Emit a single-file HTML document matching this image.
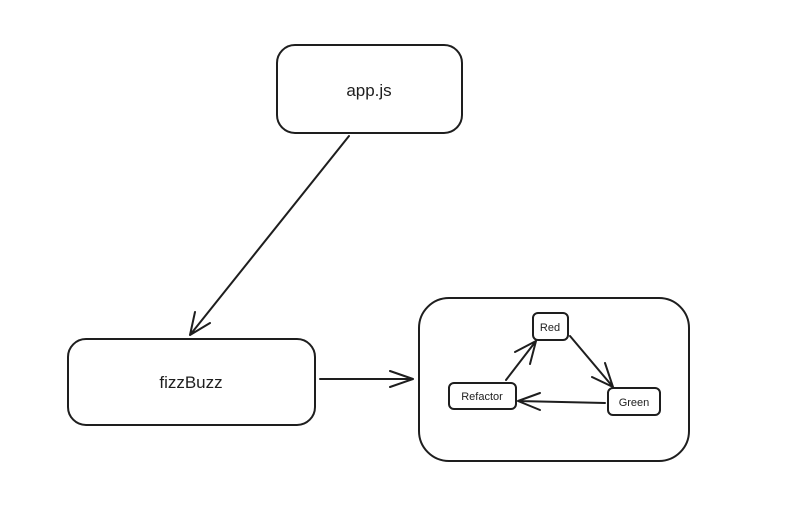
<!DOCTYPE html>
<html><head><style>
html,body{margin:0;padding:0;background:#fff;}
text{font-family:"Liberation Sans",sans-serif;fill:#1e1e1e;}
</style></head><body>
<svg width="785" height="526" viewBox="0 0 785 526" xmlns="http://www.w3.org/2000/svg">
<g fill="none" stroke="#1e1e1e" stroke-width="2" stroke-linecap="round" stroke-linejoin="round">
<rect x="277" y="45" width="185" height="88" rx="18"/>
<rect x="68" y="339" width="247" height="86" rx="18"/>
<rect x="419" y="298" width="270" height="163" rx="30"/>
<rect x="533" y="313" width="35" height="27" rx="5"/>
<rect x="449" y="383" width="67" height="26" rx="5"/>
<rect x="608" y="388" width="52" height="27" rx="5"/>
<path d="M349 136 L190 335 M190 335 L195 312 M190 335 L210 323"/>
<path d="M320 379 L413 379 M413 379 L390 371 M413 379 L390 387"/>
<path d="M506 380 L536 341 M536 341 L515 352 M536 341 L530 364"/>
<path d="M570 336 L613 387 M613 387 L605 363 M613 387 L592 377"/>
<path d="M605 403 L518 401 M518 401 L540 393 M518 401 L540 410"/>
</g>
<text x="369" y="96" font-size="17" text-anchor="middle">app.js</text>
<text x="191" y="388" font-size="17" text-anchor="middle">fizzBuzz</text>
<text x="550" y="331" font-size="11" text-anchor="middle">Red</text>
<text x="482" y="400" font-size="11" text-anchor="middle">Refactor</text>
<text x="634" y="406" font-size="11" text-anchor="middle">Green</text>
</svg>
</body></html>
